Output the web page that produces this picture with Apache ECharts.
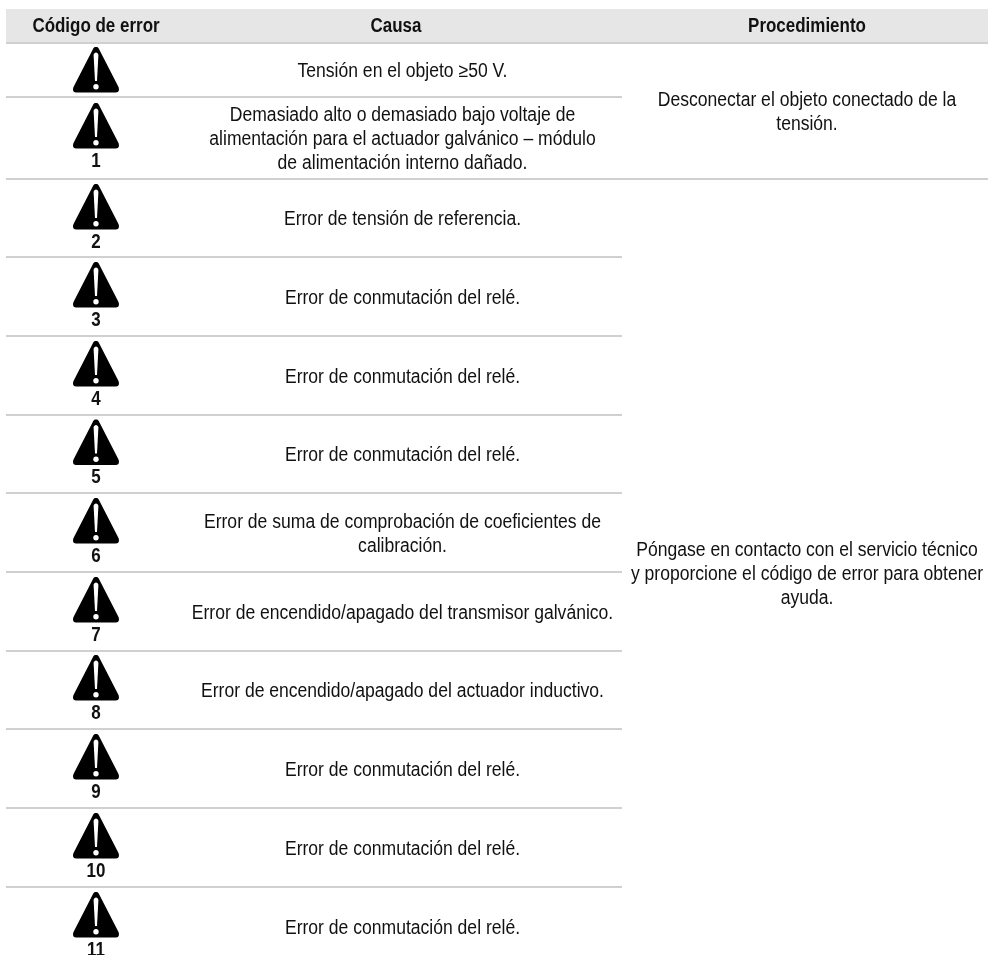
<!DOCTYPE html>
<html>
<head>
<meta charset="utf-8">
<title>Códigos de error</title>
<script src="https://cdn.jsdelivr.net/npm/echarts@6/dist/echarts.min.js"></script>
<style>
html, body { margin: 0; padding: 0; background: #fff; }
#main { width: 988px; height: 955px; }
</style>
</head>
<body>
<div id="main"></div>
<script>
// contenido de la tabla
const headers = ['Código de error', 'Causa', 'Procedimiento'];
const codes = ['', '1', '2', '3', '4', '5', '6', '7', '8', '9', '10', '11'];
const causes = [
  'Tensión en el objeto ≥50 V.',
  'Demasiado alto o demasiado bajo voltaje de\nalimentación para el actuador galvánico – módulo\nde alimentación interno dañado.',
  'Error de tensión de referencia.',
  'Error de conmutación del relé.',
  'Error de conmutación del relé.',
  'Error de conmutación del relé.',
  'Error de suma de comprobación de coeficientes de\ncalibración.',
  'Error de encendido/apagado del transmisor galvánico.',
  'Error de encendido/apagado del actuador inductivo.',
  'Error de conmutación del relé.',
  'Error de conmutación del relé.',
  'Error de conmutación del relé.'
];
const procedures = [
  'Desconectar el objeto conectado de la\ntensión.',
  'Póngase en contacto con el servicio técnico\ny proporcione el código de error para obtener\nayuda.'
];
const procedureSpans = [[0, 1], [2, 11]];

// medidas de la maqueta, en pixeles de la pagina
const rowLines = [43, 97, 179, 257, 336, 415, 493, 572, 651, 729, 808, 887, 966];
const iconTops = [47, 103, 184, 262, 341, 419.5, 498, 577, 655, 734, 813, 892];
const colCenters = [96, 402.5, 807];
const tableLeft = 6, tableRight = 988, causeRight = 622;
// no hay Arial Narrow instalada: Liberation Sans comprimida en horizontal
const fontFamily = '"Liberation Sans", Arial, sans-serif';
const fontSize = 19.5;
const regularScale = 0.9, boldScale = 0.87;
const textShift = 2;

const trianglePath = 'M-3.5,3 C-2.5,0.5 -1.5,0 0,0 C1.5,0 2.5,0.5 3.5,3 L22.5,40 C23.5,42.5 23,45.5 20,45.5 ' +
  'L-20,45.5 C-23,45.5 -23.5,42.5 -22.5,40 Z';
const barPath = 'M-2.4,8 C-2,4.5 2,4.5 2.4,8 L1,34 L-1,34 Z';

function textItem(api, x, y, text, bold) {
  const p = api.coord([x, y + textShift]);
  return {
    type: 'text',
    x: p[0], y: p[1],
    scaleX: bold ? boldScale : regularScale,
    style: {
      x: 0, y: 0, text: text, fill: '#111',
      font: (bold ? 'bold ' : '') + fontSize + 'px ' + fontFamily,
      align: 'center', verticalAlign: 'middle', lineHeight: 24
    }
  };
}

function lineItem(api, x1, x2, y) {
  const a = api.coord([x1, y]), b = api.coord([x2, y]);
  return {
    type: 'line',
    shape: { x1: a[0], y1: a[1], x2: b[0], y2: b[1] },
    style: { stroke: '#d0d0d0', lineWidth: 2 }
  };
}

// banda gris y titulos
function renderHeader(params, api) {
  const i = params.dataIndex;
  const a = api.coord([tableLeft, 9]), b = api.coord([tableRight, rowLines[0]]);
  const children = [textItem(api, i === 1 ? 396 : colCenters[i], 25, headers[i], true)];
  if (i === 0) {
    children.unshift(
      { type: 'rect', shape: { x: a[0], y: a[1], width: b[0] - a[0], height: b[1] - a[1] }, style: { fill: '#e6e6e6' } },
      lineItem(api, tableLeft, tableRight, rowLines[0])
    );
  }
  return { type: 'group', children: children };
}

// una fila: aviso, codigo, causa y la linea inferior
function renderRow(params, api) {
  const i = params.dataIndex;
  const top = rowLines[i], bottom = rowLines[i + 1];
  const p = api.coord([colCenters[0], iconTops[i]]);
  const children = [
    {
      type: 'path', x: p[0], y: p[1],
      shape: { pathData: trianglePath }, style: { fill: '#000' }
    },
    {
      type: 'path', x: p[0], y: p[1],
      shape: { pathData: barPath }, style: { fill: '#fff' }
    },
    { type: 'circle', x: p[0], y: p[1], shape: { cx: 0, cy: 39.8, r: 2.7 }, style: { fill: '#fff' } },
    textItem(api, colCenters[0], iconTops[i] + 56.5, codes[i], true),
    textItem(api, colCenters[1], (top + bottom) / 2, causes[i], false)
  ];
  if (i < codes.length - 1) {
    // las filas unidas de la columna derecha cortan la linea
    const closesProcedure = procedureSpans.some(s => s[1] === i);
    children.push(lineItem(api, tableLeft, closesProcedure ? tableRight : causeRight, bottom));
  }
  return { type: 'group', children: children };
}

function renderProcedure(params, api) {
  const span = procedureSpans[params.dataIndex];
  const y = (rowLines[span[0]] + rowLines[span[1] + 1]) / 2;
  return textItem(api, colCenters[2], y, procedures[params.dataIndex], false);
}

const chart = echarts.init(document.getElementById('main'), null, { renderer: 'canvas' });
chart.setOption({
  animation: false,
  backgroundColor: '#fff',
  grid: { left: 0, right: 0, top: 0, bottom: 0 },
  xAxis: { type: 'value', min: 0, max: 988, show: false },
  yAxis: { type: 'value', min: 0, max: 955, inverse: true, show: false },
  series: [
    { type: 'custom', coordinateSystem: 'cartesian2d', renderItem: renderHeader, data: headers.map((h, i) => [i]), silent: true },
    { type: 'custom', coordinateSystem: 'cartesian2d', renderItem: renderRow, data: codes.map((c, i) => [i]), silent: true },
    { type: 'custom', coordinateSystem: 'cartesian2d', renderItem: renderProcedure, data: procedures.map((c, i) => [i]), silent: true }
  ]
});
</script>
</body>
</html>
